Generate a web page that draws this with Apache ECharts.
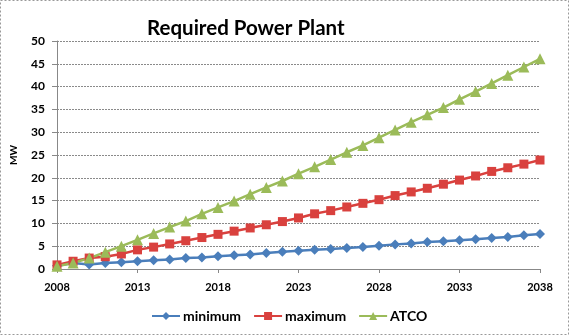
<!DOCTYPE html>
<html>
<head>
<meta charset="utf-8">
<script src="https://cdn.jsdelivr.net/npm/echarts@6/dist/echarts.min.js"></script>
<style>
html,body{margin:0;padding:0;background:#fff;}
#c{width:569px;height:335px;}
</style>
</head>
<body>
<div id="c"></div>
<script>
var years = [];
for (var y = 2008; y <= 2038; y++) years.push(String(y));

var minimum = [0.7, 1.3, 1.0, 1.3, 1.5, 1.7, 1.9, 2.1, 2.4, 2.5, 2.8, 3.0, 3.2, 3.5, 3.8, 4.0, 4.2, 4.4, 4.6, 4.8, 5.1, 5.4, 5.6, 5.9, 6.1, 6.3, 6.5, 6.8, 7.0, 7.4, 7.7];
var maximum = [0.9, 1.7, 2.4, 2.7, 3.3, 4.2, 4.8, 5.5, 6.2, 6.9, 7.6, 8.3, 9.0, 9.7, 10.4, 11.2, 12.1, 12.8, 13.6, 14.4, 15.2, 16.1, 16.9, 17.7, 18.6, 19.5, 20.4, 21.4, 22.2, 23.0, 23.9];
var atco = [0.6, 1.3, 2.4, 3.7, 5.0, 6.4, 7.8, 9.2, 10.5, 12.1, 13.5, 14.9, 16.4, 17.9, 19.3, 20.9, 22.4, 24.0, 25.6, 27.1, 28.8, 30.5, 32.2, 33.8, 35.4, 37.2, 38.9, 40.7, 42.5, 44.3, 46.1];
var yTicks = [0, 5, 10, 15, 20, 25, 30, 35, 40, 45, 50];

var font = 'Lato, "Open Sans", sans-serif';
var chart = echarts.init(document.getElementById('c'));
chart.setOption({
  animation: false,
  backgroundColor: '#fff',
  title: {
    text: 'Required Power Plant',
    left: 142, top: 13,
    textStyle: {fontFamily: font, fontWeight: 'bold', fontSize: 20.5, color: '#000'}
  },
  graphic: [{
    type: 'rect', shape: {x: 0.5, y: 0.5, width: 568, height: 334},
    style: {fill: 'none', stroke: '#999', lineWidth: 1, lineDash: [2, 2]}, silent: true
  }],
  legend: {
    top: 304, left: 146,
    itemWidth: 28, itemHeight: 10, itemGap: 12,
    textStyle: {fontFamily: font, fontWeight: 'bold', fontSize: 14, color: '#000', padding: [0, 0, 0, -2]},
    data: ['minimum', 'maximum', 'ATCO']
  },
  grid: {left: 57, right: 29, top: 41, bottom: 66},
  xAxis: {
    type: 'category', data: years, boundaryGap: false,
    axisLine: {lineStyle: {color: '#888', width: 1}},
    axisTick: {show: true, interval: 4, length: 4, lineStyle: {color: '#888'}},
    axisLabel: {interval: 4, margin: 13, fontFamily: font, fontWeight: 'bold', fontSize: 11, color: '#000'},
    splitLine: {show: false}
  },
  yAxis: {
    type: 'value', min: 0, max: 50, interval: 5,
    name: 'MW', nameLocation: 'middle', nameGap: 38, nameRotate: 90,
    nameTextStyle: {fontFamily: font, fontWeight: 'bold', fontSize: 10, color: '#000'},
    axisLine: {show: true, lineStyle: {color: '#888', width: 1}},
    axisTick: {show: true, length: 5, lineStyle: {color: '#888'}},
    axisLabel: {margin: 12, fontFamily: font, fontWeight: 'bold', fontSize: 12, color: '#000',
      formatter: function (v) { return yTicks.indexOf(v) >= 0 ? String(v) : ''; }},
    splitLine: {show: true, lineStyle: {color: '#8a8a8a', width: 1, type: [2, 1]}}
  },
  series: [
    {name: 'minimum', type: 'line', data: minimum, symbol: 'diamond', symbolSize: 10, showAllSymbol: true,
      itemStyle: {color: '#4a7ebb'}, lineStyle: {color: '#4a7ebb', width: 2.5}},
    {name: 'maximum', type: 'line', data: maximum, symbol: 'rect', symbolSize: 9, showAllSymbol: true,
      itemStyle: {color: '#d9413e'}, lineStyle: {color: '#d9413e', width: 2.5}},
    {name: 'ATCO', type: 'line', data: atco, symbol: 'triangle', symbolSize: 11, showAllSymbol: true,
      itemStyle: {color: '#9bbb59'}, lineStyle: {color: '#9bbb59', width: 2.5}}
  ]
});
</script>
</body>
</html>
